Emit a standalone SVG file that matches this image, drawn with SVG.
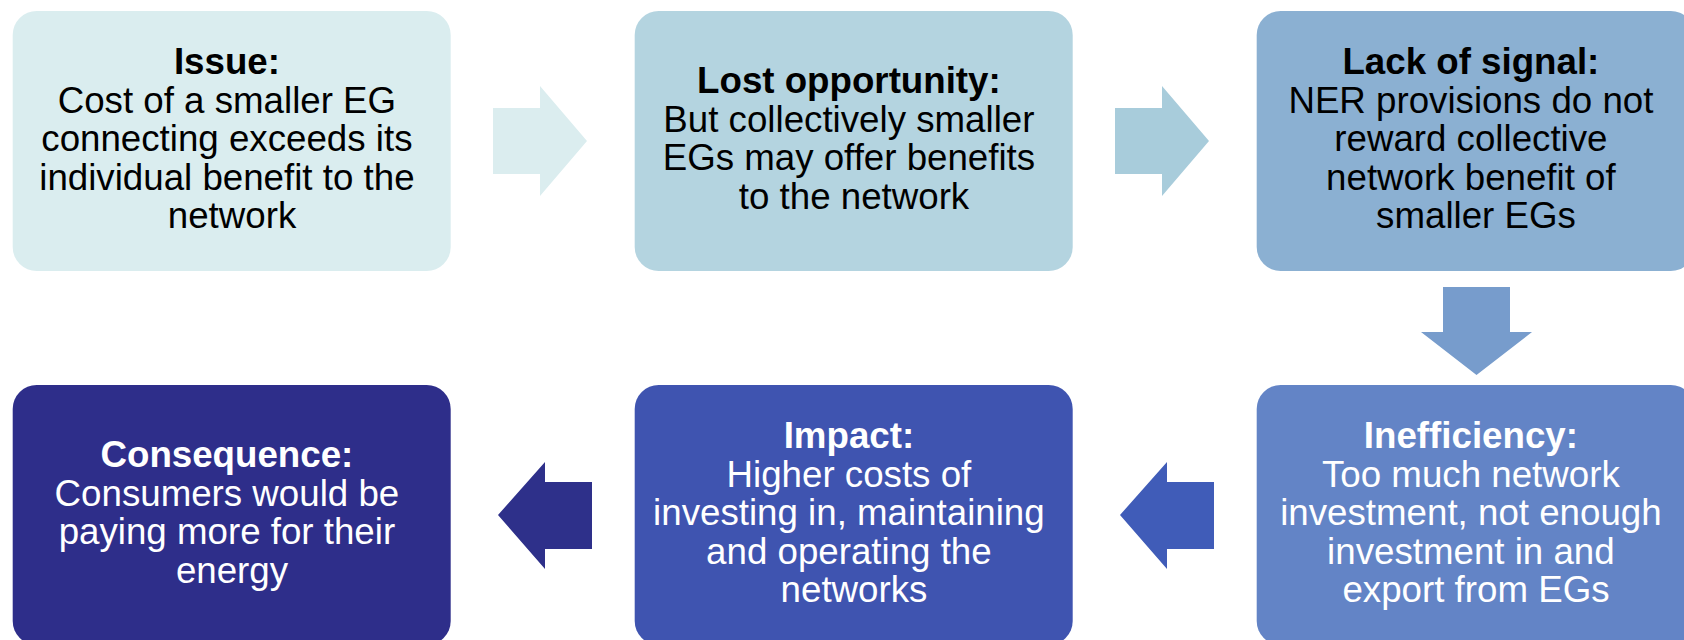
<svg xmlns="http://www.w3.org/2000/svg" width="1684" height="640" viewBox="0 0 1684 640">
  <style>
    .box { stroke: none; }
    .lbl { font-family: "Liberation Sans", Arial, sans-serif; font-size: 36.7px; text-anchor: middle; }
    .lbl .h { font-weight: bold; }
    .dark { fill: #000000; }
    .light { fill: #FFFFFF; }
  </style>
  <defs>
    <!-- block arrow shapes, drawn at origin and placed with transforms -->
    <path id="arrowRight" d="M0,0 H47 V-22 L94,33 L47,88 V66 H0 Z"/>
    <path id="arrowLeft" d="M0,0 H-47 V-20 L-94,33 L-47,87 V67 H0 Z"/>
  </defs>

  <rect width="1684" height="640" fill="#FFFFFF"/>

  <!-- connectors -->
  <g id="connectors">
    <use href="#arrowRight" x="493" y="108" fill="#DBEDEF"/>
    <use href="#arrowRight" x="1115" y="108" fill="#A8CCDB"/>
    <path d="M1443,287 H1510 V332 H1532 L1476.5,375 L1421,332 H1443 Z" fill="#779CCC"/>
    <use href="#arrowLeft" x="1214" y="482" fill="#405CB8"/>
    <use href="#arrowLeft" x="592" y="482" fill="#2E308A"/>
  </g>

  <!-- top row -->
  <g id="node-issue">
    <rect class="box" x="12.7" y="11" width="438" height="260" rx="24" fill="#DAEDEF"/>
    <text class="lbl dark" x="232" y="74">
      <tspan class="h" x="232">Issue:</tspan>
      <tspan x="232" dy="38.5">Cost of a smaller EG</tspan>
      <tspan x="232" dy="38.5">connecting exceeds its</tspan>
      <tspan x="232" dy="38.5">individual benefit to the</tspan>
      <tspan x="232" dy="38.5">network</tspan>
    </text>
  </g>

  <g id="node-lost-opportunity">
    <rect class="box" x="634.7" y="11" width="438" height="260" rx="24" fill="#B4D4E0"/>
    <text class="lbl dark" x="854" y="93.3">
      <tspan class="h" x="854">Lost opportunity:</tspan>
      <tspan x="854" dy="38.5">But collectively smaller</tspan>
      <tspan x="854" dy="38.5">EGs may offer benefits</tspan>
      <tspan x="854" dy="38.5">to the network</tspan>
    </text>
  </g>

  <g id="node-lack-of-signal">
    <rect class="box" x="1256.7" y="11" width="438" height="260" rx="24" fill="#8BB0D2"/>
    <text class="lbl dark" x="1476" y="74">
      <tspan class="h" x="1476">Lack of signal:</tspan>
      <tspan x="1476" dy="38.5">NER provisions do not</tspan>
      <tspan x="1476" dy="38.5">reward collective</tspan>
      <tspan x="1476" dy="38.5">network benefit of</tspan>
      <tspan x="1476" dy="38.5">smaller EGs</tspan>
    </text>
  </g>

  <!-- bottom row -->
  <g id="node-inefficiency">
    <rect class="box" x="1256.7" y="385" width="438" height="260" rx="24" fill="#6384C6"/>
    <text class="lbl light" x="1476" y="448">
      <tspan class="h" x="1476">Inefficiency:</tspan>
      <tspan x="1476" dy="38.5">Too much network</tspan>
      <tspan x="1476" dy="38.5">investment, not enough</tspan>
      <tspan x="1476" dy="38.5">investment in and</tspan>
      <tspan x="1476" dy="38.5">export from EGs</tspan>
    </text>
  </g>

  <g id="node-impact">
    <rect class="box" x="634.7" y="385" width="438" height="260" rx="24" fill="#3F54B0"/>
    <text class="lbl light" x="854" y="448">
      <tspan class="h" x="854">Impact:</tspan>
      <tspan x="854" dy="38.5">Higher costs of</tspan>
      <tspan x="854" dy="38.5">investing in, maintaining</tspan>
      <tspan x="854" dy="38.5">and operating the</tspan>
      <tspan x="854" dy="38.5">networks</tspan>
    </text>
  </g>

  <g id="node-consequence">
    <rect class="box" x="12.7" y="385" width="438" height="260" rx="24" fill="#2E2E8A"/>
    <text class="lbl light" x="232" y="467">
      <tspan class="h" x="232">Consequence:</tspan>
      <tspan x="232" dy="38.5">Consumers would be</tspan>
      <tspan x="232" dy="38.5">paying more for their</tspan>
      <tspan x="232" dy="38.5">energy</tspan>
    </text>
  </g>
</svg>
